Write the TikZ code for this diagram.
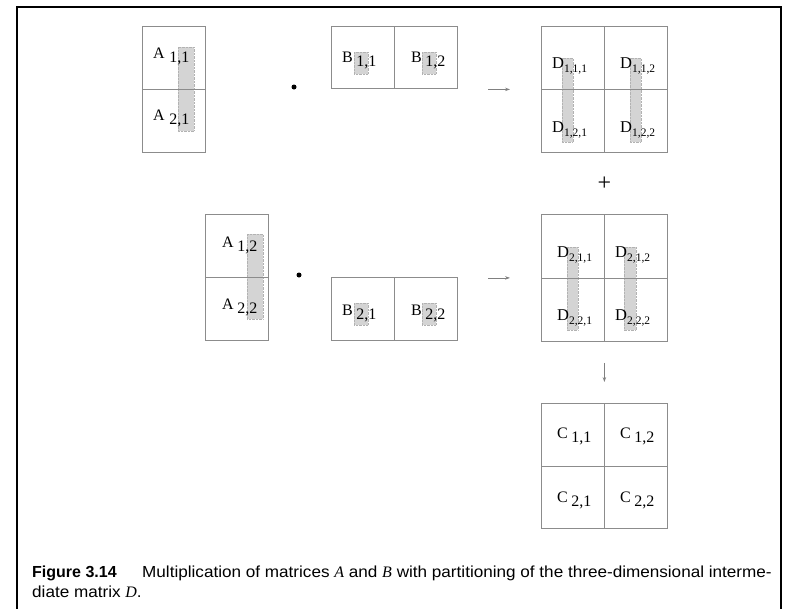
\documentclass[tikz,border=0pt]{standalone}
\usepackage{fontspec}
\setmainfont{Liberation Serif}
\newfontfamily\capfont[FakeStretch=1.07]{Liberation Sans}
\newfontfamily\capbold{Liberation Sans Bold}
\usetikzlibrary{arrows.meta,calc}

% label: letter followed by a lowered index
\newcommand\idx[3]{#1\hspace{#3}\raisebox{-4.5pt}{#2}}
\newcommand\didx[2]{#1\raisebox{-4pt}{\fontsize{11.5}{11.5}\selectfont #2}}

\begin{document}
\begin{tikzpicture}[x=1pt,y=-1pt,
  blk/.style={draw=black!45,line width=0.8pt,inner sep=0,anchor=north west},
  sep/.style={draw=black!45,line width=0.8pt},
  strip/.style={fill=black!17,draw=black!30,densely dotted,line width=0.4pt},
  lab/.style={anchor=base west,inner sep=0,font=\fontsize{16}{16}\selectfont},
  dlab/.style={anchor=base west,inner sep=0,font=\fontsize{16.5}{16.5}\selectfont},
  arr/.style={draw=black!50,line width=0.8pt,-{Stealth[length=5pt,width=3.5pt]}},
  dotnode/.style={circle,fill=black,inner sep=0,minimum size=5pt},
  captxt/.style={anchor=base west,inner sep=0,font=\capfont\fontsize{16}{16}\selectfont},
]
\useasboundingbox (0,0) rectangle (789,608);

% outer frame, open at the bottom
\draw[line width=2pt] (17,612) -- (17,7) -- (781,7) -- (781,612);

% shaded strips marking the data that one process works on
\path[strip] (178,47) rectangle (194,131);
\path[strip] (247,234) rectangle (263,319);
\path[strip] (354,52) rectangle (368,74);
\path[strip] (422,52) rectangle (436,74);
\path[strip] (354,303) rectangle (368,325);
\path[strip] (422,303) rectangle (436,325);
\path[strip] (562,58) rectangle (573,142);
\path[strip] (630,58) rectangle (641,142);
\path[strip] (567,247) rectangle (578,330);
\path[strip] (624,247) rectangle (636,330);

% matrix blocks
\node[blk,minimum width=63pt,minimum height=126pt] (A1) at (142,26) {};
\node[blk,minimum width=63pt,minimum height=126pt] (A2) at (205,214) {};
\node[blk,minimum width=126pt,minimum height=62pt] (B1) at (331,26) {};
\node[blk,minimum width=126pt,minimum height=63pt] (B2) at (331,277) {};
\node[blk,minimum width=126pt,minimum height=126pt] (D1) at (541,26) {};
\node[blk,minimum width=126pt,minimum height=127pt] (D2) at (541,214) {};
\node[blk,minimum width=126pt,minimum height=125pt] (C) at (541,403) {};

% cell borders
\draw[sep] (A1.west) -- (A1.east);
\draw[sep] (A2.west) -- (A2.east);
\draw[sep] (B1.north) -- (B1.south);
\draw[sep] (B2.north) -- (B2.south);
\draw[sep] (D1.west) -- (D1.east);
\draw[sep] (D1.north) -- (D1.south);
\draw[sep] (D2.west) -- (D2.east);
\draw[sep] (D2.north) -- (D2.south);
\draw[sep] (C.west) -- (C.east);
\draw[sep] (C.north) -- (C.south);

% entries
\node[lab] (a11) at (153,58) {\idx{A}{1,1}{4.5pt}};
\node[lab] (a21) at (153,120) {\idx{A}{2,1}{4.5pt}};
\node[lab] (a12) at (222,247) {\idx{A}{1,2}{3.5pt}};
\node[lab] (a22) at (222,309) {\idx{A}{2,2}{3.5pt}};
\node[lab] (b11) at (342,62) {\idx{B}{1,1}{3.5pt}};
\node[lab] (b12) at (411,62) {\idx{B}{1,2}{3.5pt}};
\node[lab] (b21) at (342,315) {\idx{B}{2,1}{3.5pt}};
\node[lab] (b22) at (411,315) {\idx{B}{2,2}{3.5pt}};
\node[dlab] (d111) at (552,68) {\didx{D}{1,1,1}};
\node[dlab] (d112) at (620,68) {\didx{D}{1,1,2}};
\node[dlab] (d121) at (552,132) {\didx{D}{1,2,1}};
\node[dlab] (d122) at (620,132) {\didx{D}{1,2,2}};
\node[dlab] (d211) at (557,257) {\didx{D}{2,1,1}};
\node[dlab] (d212) at (615,257) {\didx{D}{2,1,2}};
\node[dlab] (d221) at (557,320) {\didx{D}{2,2,1}};
\node[dlab] (d222) at (615,320) {\didx{D}{2,2,2}};
\node[lab] (c11) at (557,438) {\idx{C}{1,1}{3.5pt}};
\node[lab] (c12) at (620,438) {\idx{C}{1,2}{3.5pt}};
\node[lab] (c21) at (557,502) {\idx{C}{2,1}{3.5pt}};
\node[lab] (c22) at (620,502) {\idx{C}{2,2}{3.5pt}};

% operators
\node[dotnode] (dot1) at (294,87) {};
\node[dotnode] (dot2) at (299,275) {};
\node[inner sep=0,font=\fontsize{24}{24}\selectfont] (plus) at ($(D1.south)!0.5!(D2.north)$) {+};

% arrows
\draw[arr] ([xshift=-53pt]D1.west) -- ([xshift=-31pt]D1.west);
\draw[arr] ([xshift=-53pt]D2.west) -- ([xshift=-31pt]D2.west);
\draw[arr] ([yshift=-21pt]D2.south) -- ([yshift=21pt]C.north);

% caption
\node[captxt] (capnum) at (32,577) {\capbold Figure 3.14};
\node[captxt] (cap1) at (142,577) {Multiplication of matrices {\rmfamily\itshape A} and {\rmfamily\itshape B} with partitioning of the three-dimensional interme-};
\node[captxt] (cap2) at (32,597) {diate matrix {\rmfamily\itshape D}.};
\end{tikzpicture}
\end{document}
